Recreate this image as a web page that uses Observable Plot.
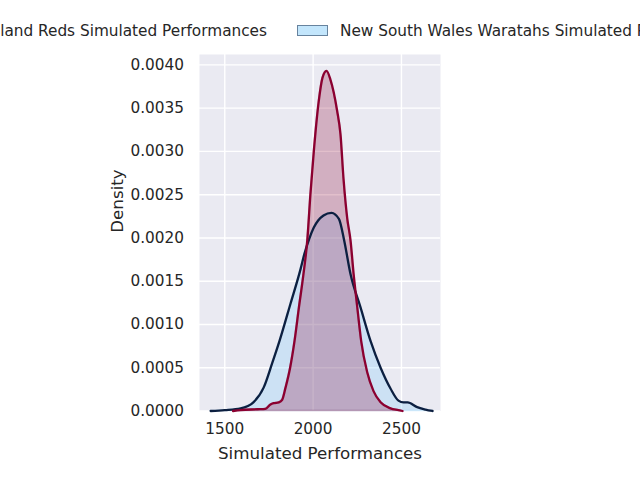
<!DOCTYPE html>
<html><head><meta charset="utf-8">
<script src="https://cdn.jsdelivr.net/npm/d3@7"></script>
<script src="https://cdn.jsdelivr.net/npm/@observablehq/plot@0.6"></script>
<style>
body{margin:0;background:#fff;}
#wrap{position:relative;width:640px;height:480px;overflow:hidden;font-family:"DejaVu Sans",sans-serif;}
#wrap svg{display:block;position:absolute;left:0;top:0;}
.leg{position:absolute;top:21.5px;height:18px;line-height:18px;display:flex;align-items:center;white-space:nowrap;font-size:15.3px;color:#262626;}
.sw{box-sizing:border-box;width:31px;height:11px;border:1px solid;margin-right:12px;flex:none;}
</style></head><body><div id="wrap"></div>
<script>
const seriesNames = ["Queensland Reds Simulated Performances", "New South Wales Waratahs Simulated Performances"];
const xTicks = [1500, 2000, 2500];
const yTicks = [0, 0.0005, 0.001, 0.0015, 0.002, 0.0025, 0.003, 0.0035, 0.004];

const nswX = [1420, 1500, 1590, 1662, 1720, 1768, 1810, 1872, 1929, 1950, 1978, 2004, 2059, 2104, 2146, 2175, 2212, 2268, 2325, 2382, 2438, 2483, 2512, 2535, 2589, 2636, 2676];
const nswDensity = [0, 0.00001, 0.00003, 0.0001, 0.00027, 0.00055, 0.00081, 0.00124, 0.00164, 0.00181, 0.00199, 0.00212, 0.00226, 0.00229, 0.00222, 0.00198, 0.00158, 0.0012, 0.00081, 0.0005, 0.00026, 0.00012, 0.0001, 0.0001, 0.000044, 0.000017, 0];

const redsX = [1547, 1590, 1685, 1730, 1759, 1777, 1806, 1825, 1844, 1870, 1895, 1920, 1946, 1967, 1985, 2004, 2032, 2053, 2076, 2098, 2136, 2155, 2172, 2193, 2212, 2229, 2250, 2272, 2306, 2342, 2382, 2438, 2483, 2506];
const redsDensity = [0, 0.00001, 0.00002, 0.000025, 0.000075, 0.00009, 0.0001, 0.00013, 0.00027, 0.0005, 0.00081, 0.0012, 0.00159, 0.00197, 0.00251, 0.003, 0.00358, 0.00385, 0.00393, 0.00383, 0.00347, 0.0032, 0.00269, 0.00223, 0.00197, 0.00159, 0.0012, 0.00081, 0.00045, 0.00023, 0.0001, 0.00003, 0.00001, 0];

const nsw = nswX.map((x, i) => ({x, d: nswDensity[i]}));
const reds = redsX.map((x, i) => ({x, d: redsDensity[i]}));

const RED = "#8B0030", NAVY = "#0C1F40", SKY = "#87CEFA";
const curve = "monotone-x";

const chart = Plot.plot({
  width: 640, height: 480,
  marginLeft: 199, marginRight: 200, marginTop: 54, marginBottom: 69.5,
  style: {fontFamily: "DejaVu Sans, sans-serif", fontSize: "15.3px", color: "#262626", background: "transparent", overflow: "visible"},
  x: {domain: [1357, 2721]},
  y: {domain: [0, 0.00412]},
  marks: [
    Plot.frame({fill: "#EAEAF2", stroke: "none"}),
    Plot.gridX(xTicks, {stroke: "#fff", strokeOpacity: 1, strokeWidth: 1.4}),
    Plot.gridY(yTicks, {stroke: "#fff", strokeOpacity: 1, strokeWidth: 1.4}),
    Plot.areaY(nsw, {x: "x", y: "d", fill: SKY, fillOpacity: 0.3, stroke: SKY, strokeOpacity: 0.3, strokeWidth: 1.4, curve}),
    Plot.areaY(reds, {x: "x", y: "d", fill: RED, fillOpacity: 0.25, stroke: RED, strokeOpacity: 0.25, strokeWidth: 1.4, curve}),
    Plot.lineY(nsw, {x: "x", y: "d", stroke: NAVY, strokeWidth: 2.3, curve}),
    Plot.lineY(reds, {x: "x", y: "d", stroke: RED, strokeWidth: 2.3, curve}),
    Plot.axisX(xTicks, {tickSize: 0, tickPadding: 12.5, tickFormat: d => String(d), label: null, fontSize: 15.3, fill: "#262626"}),
    Plot.axisY(yTicks, {tickSize: 0, tickPadding: 15.5, tickFormat: d => d.toFixed(4), label: null, fontSize: 15.3, fill: "#262626"}),
    Plot.text(["Simulated Performances"], {frameAnchor: "bottom", text: d => d, dy: 36, lineAnchor: "top", fontSize: 16.7, fill: "#262626"}),
    Plot.text(["Density"], {frameAnchor: "left", text: d => d, dx: -88, rotate: -90, lineAnchor: "top", fontSize: 16.7, fill: "#262626"})
  ]
});

const wrap = document.getElementById("wrap");
wrap.appendChild(chart);

const leg1 = document.createElement("div");
leg1.className = "leg";
leg1.style.right = (640 - 267) + "px";
leg1.innerHTML = `<span class="sw" style="background:rgba(139,0,48,0.25);border-color:rgba(139,0,48,1)"></span><span>${seriesNames[0]}</span>`;
wrap.appendChild(leg1);

const leg2 = document.createElement("div");
leg2.className = "leg";
leg2.style.left = "297px";
leg2.innerHTML = `<span class="sw" style="background:rgba(135,206,250,0.5);border-color:rgba(12,31,64,0.5)"></span><span>${seriesNames[1]}</span>`;
wrap.appendChild(leg2);
</script>
</body></html>
